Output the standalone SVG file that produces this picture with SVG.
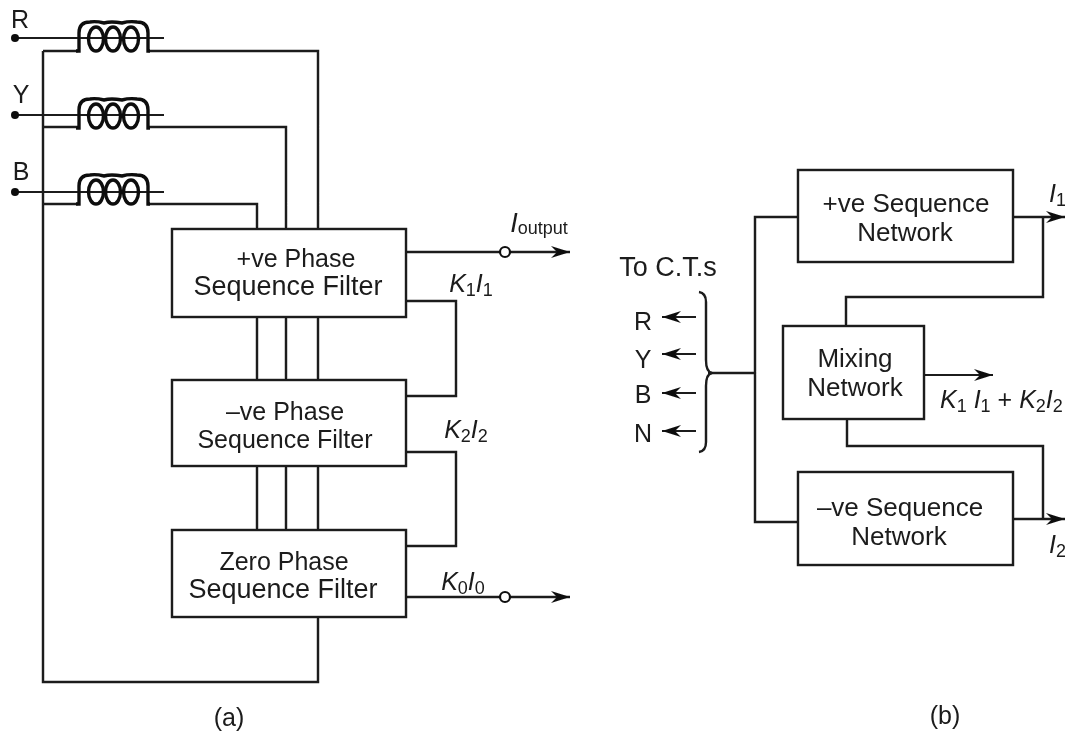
<svg xmlns="http://www.w3.org/2000/svg" xmlns:xlink="http://www.w3.org/1999/xlink" width="1065" height="738" viewBox="0 0 1065 738">
<style>
text{font-family:"Liberation Sans",Arial,sans-serif;font-size:25px;fill:#1a1a1a;text-anchor:middle}
.big{font-size:27px}
.net{font-size:26px}
.i{font-style:italic}
.s{font-size:18px}
.st{text-anchor:start}
.w,.box{fill:none;stroke:#1a1a1a;stroke-width:2.4}
.box{fill:#fff}
.thin{fill:none;stroke:#1a1a1a;stroke-width:1.8}
.coil{fill:none;stroke:#111;stroke-width:3.4}
.dot{fill:#111}
.o{fill:#fff;stroke:#111;stroke-width:2.2}
</style>
<defs>
<marker id="a" markerUnits="userSpaceOnUse" markerWidth="20" markerHeight="14" refX="19" refY="7" orient="auto"><path d="M0 1L19 7L0 13L6 7Z" fill="#111"/></marker>
<g id="coil">
<path class="coil" d="M76 51H79V33Q79 22 90 22Q96 21 104 23Q111 21 122 23Q129 21 137 22Q148 22 148 33V51H150"/>
<ellipse class="coil" cx="96" cy="39" rx="7.5" ry="12"/>
<ellipse class="coil" cx="113" cy="39" rx="7.5" ry="12"/>
<ellipse class="coil" cx="131" cy="39" rx="7.5" ry="12"/>
</g>
<filter id="soft" x="0" y="0" width="100%" height="100%"><feGaussianBlur stdDeviation="0.5"/></filter>
</defs>
<rect width="1065" height="738" fill="#fff"/>
<g filter="url(#soft)">
<g id="connectors">
<path class="w" d="M43 51V682H318V617"/>
<path class="w" d="M43 51H78M43 127H78M43 204H78"/>
<path class="w" d="M148 51H318V229M148 127H286V229M148 204H257V229"/>
<path class="w" d="M257 317V380M286 317V380M318 317V380M257 466V530M286 466V530M318 466V530"/>
<path class="thin" d="M15 38H164M15 115H164M15 192H164"/>
<path class="w" d="M406 252H500M510 252H570" marker-end="url(#a)"/>
<path class="w" d="M406 597H500M510 597H570" marker-end="url(#a)"/>
<path class="w" d="M406 301H456V396H406M406 452H456V546H406"/>
<path class="w" d="M708 373H755M798 217H755V522H798"/>
<path class="w" d="M1013 217H1065" marker-end="url(#a)"/>
<path class="w" d="M1013 519H1065" marker-end="url(#a)"/>
<path class="w" d="M1043 217V297H846V326M847 419V446H1043V519"/>
<path class="thin" d="M925 375H993" marker-end="url(#a)"/>
<path class="thin" d="M696 317H662" marker-end="url(#a)"/>
<path class="thin" d="M696 354H662" marker-end="url(#a)"/>
<path class="thin" d="M696 393H662" marker-end="url(#a)"/>
<path class="thin" d="M696 431H662" marker-end="url(#a)"/>
<path class="w" d="M699 292Q706 293 706 302V360Q706 372 712 373Q706 374 706 386V442Q706 451 699 452"/>
</g>
<g id="ct-r"><circle class="dot" cx="15" cy="38" r="4"/><use xlink:href="#coil"/><text x="20" y="28">R</text></g>
<g id="ct-y"><circle class="dot" cx="15" cy="115" r="4"/><use xlink:href="#coil" y="77"/><text x="21" y="103">Y</text></g>
<g id="ct-b"><circle class="dot" cx="15" cy="192" r="4"/><use xlink:href="#coil" y="153"/><text x="21" y="180">B</text></g>
<g id="filter-pos"><rect class="box" x="172" y="229" width="234" height="88"/><text x="296" y="267">+ve Phase</text><text class="big" x="288" y="295">Sequence Filter</text></g>
<g id="filter-neg"><rect class="box" x="172" y="380" width="234" height="86"/><text x="285" y="420">–ve Phase</text><text x="285" y="448">Sequence Filter</text></g>
<g id="filter-zero"><rect class="box" x="172" y="530" width="234" height="87"/><text x="284" y="570">Zero Phase</text><text class="big" x="283" y="598">Sequence Filter</text></g>
<g id="output-circles"><circle class="o" cx="505" cy="252" r="5"/><circle class="o" cx="505" cy="597" r="5"/></g>
<g id="net-pos"><rect class="box" x="798" y="170" width="215" height="92"/><text class="net" x="906" y="212">+ve Sequence</text><text class="net" x="905" y="241">Network</text></g>
<g id="net-mix"><rect class="box" x="783" y="326" width="141" height="93"/><text class="net" x="855" y="367">Mixing</text><text class="net" x="855" y="396">Network</text></g>
<g id="net-neg"><rect class="box" x="798" y="472" width="215" height="93"/><text class="net" x="900" y="516">–ve Sequence</text><text class="net" x="899" y="545">Network</text></g>
<g id="labels">
<text class="big" x="539" y="232"><tspan class="i">I</tspan><tspan class="s" dy="2">output</tspan></text>
<text x="471" y="292"><tspan class="i">K</tspan><tspan class="s" dy="4">1</tspan><tspan class="i" dy="-4">I</tspan><tspan class="s" dy="4">1</tspan></text>
<text x="466" y="438"><tspan class="i">K</tspan><tspan class="s" dy="4">2</tspan><tspan class="i" dy="-4">I</tspan><tspan class="s" dy="4">2</tspan></text>
<text x="463" y="590"><tspan class="i">K</tspan><tspan class="s" dy="4">0</tspan><tspan class="i" dy="-4">I</tspan><tspan class="s" dy="4">0</tspan></text>
<text class="big" x="668" y="276">To C.T.s</text>
<text x="643" y="330">R</text><text x="643" y="368">Y</text><text x="643" y="403">B</text><text x="643" y="442">N</text>
<text class="st" x="940" y="408"><tspan class="i">K</tspan><tspan class="s" dy="4">1</tspan><tspan class="i" dy="-4"> I</tspan><tspan class="s" dy="4">1</tspan><tspan dy="-4"> + </tspan><tspan class="i">K</tspan><tspan class="s" dy="4">2</tspan><tspan class="i" dy="-4">I</tspan><tspan class="s" dy="4">2</tspan></text>
<text class="st" x="1049" y="202"><tspan class="i">I</tspan><tspan class="s" dy="4">1</tspan></text>
<text class="st" x="1049" y="553"><tspan class="i">I</tspan><tspan class="s" dy="4">2</tspan></text>
<text x="229" y="726">(a)</text>
<text x="945" y="724">(b)</text>
</g>
</g>
</svg>
